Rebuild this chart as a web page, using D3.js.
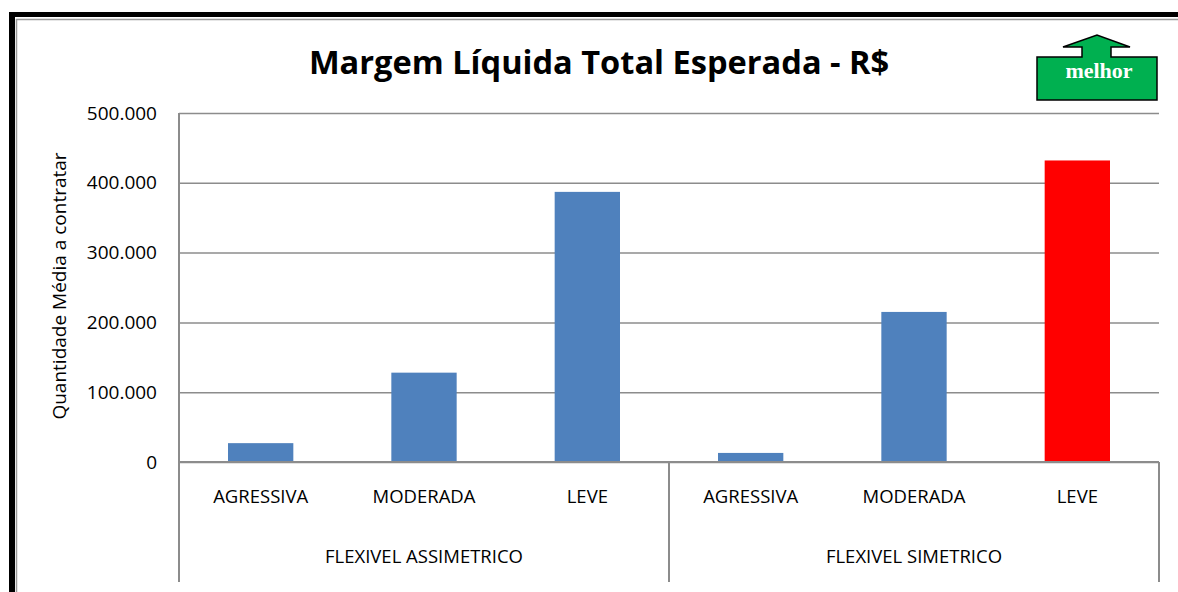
<!DOCTYPE html>
<html>
<head>
<meta charset="utf-8">
<script src="https://cdn.jsdelivr.net/npm/d3@7"></script>
<style>
  body { margin: 0; background: #fff; }
  text { font-family: "Open Sans", sans-serif; fill: #000; }
</style>
</head>
<body>
<script>
// data
const groups = ["FLEXIVEL ASSIMETRICO", "FLEXIVEL SIMETRICO"];
const levels = ["AGRESSIVA", "MODERADA", "LEVE"];
const values = [
  [27000, 128000, 387000],
  [13000, 215000, 432000]
];
const yTicks = [0, 100000, 200000, 300000, 400000, 500000];
const best = { group: 1, level: 2 };

const W = 1178, H = 592;
const plot = { left: 179, right: 1159, top: 113, bottom: 462 };

const svg = d3.select("body").append("svg")
  .attr("width", W).attr("height", H);

// frame (black + gray edge)
svg.append("rect").attr("x", 9).attr("y", 12).attr("width", W).attr("height", 5).attr("fill", "#000");
svg.append("rect").attr("x", 9).attr("y", 12).attr("width", 6).attr("height", H).attr("fill", "#000");
svg.append("line").attr("x1", 16).attr("x2", W).attr("y1", 19.5).attr("y2", 19.5)
  .attr("stroke", "#9a9a9a").attr("stroke-width", 1.5);
svg.append("line").attr("x1", 16.5).attr("x2", 16.5).attr("y1", 19).attr("y2", H)
  .attr("stroke", "#9a9a9a").attr("stroke-width", 1.5);

// title
svg.append("text")
  .attr("x", 599).attr("y", 74)
  .attr("text-anchor", "middle")
  .style("font-size", "32.6px").style("font-weight", "bold")
  .text("Margem Líquida Total Esperada - R$");

// flat list of bars
const rows = [];
groups.forEach((g, gi) => levels.forEach((l, li) => {
  rows.push({ key: gi + "|" + l, group: g, gi, level: l, li, value: values[gi][li] });
}));

const x = d3.scaleBand()
  .domain(rows.map(d => d.key))
  .range([plot.left, plot.right])
  .paddingInner(0.6).paddingOuter(0.3);

const y = d3.scaleLinear().domain([0, 500000]).range([plot.bottom, plot.top]);

const locale = d3.formatLocale({ decimal: ",", thousands: ".", grouping: [3], currency: ["R$", ""] });
const fmt = locale.format(",.0f");

// y axis with gridlines
const yAxis = svg.append("g")
  .attr("transform", `translate(${plot.left},0)`)
  .call(d3.axisLeft(y).tickValues(yTicks).tickFormat(fmt)
    .tickSize(-(plot.right - plot.left)).tickPadding(22));
yAxis.select(".domain").remove();
yAxis.selectAll(".tick line").attr("stroke", "#8c8c8c").attr("stroke-width", 1.5);
yAxis.selectAll(".tick text").style("font-size", "19px").style("font-family", "'Open Sans', sans-serif").attr("fill", "#000");

// bars
svg.append("g").selectAll("rect")
  .data(rows).join("rect")
  .attr("x", d => x(d.key))
  .attr("width", x.bandwidth())
  .attr("y", d => y(d.value))
  .attr("height", d => y(0) - y(d.value))
  .attr("fill", d => (d.gi === best.group && d.li === best.level) ? "#ff0000" : "#4f81bd");

// axis lines
const axisColor = "#8c8c8c";
const catBottom = 582;
svg.append("line").attr("x1", plot.left).attr("x2", plot.right)
  .attr("y1", plot.bottom).attr("y2", plot.bottom)
  .attr("stroke", axisColor).attr("stroke-width", 2);
svg.append("line").attr("x1", plot.left).attr("x2", plot.left)
  .attr("y1", plot.top).attr("y2", catBottom)
  .attr("stroke", axisColor).attr("stroke-width", 2);

// group dividers
const groupSpan = (plot.right - plot.left) / groups.length;
const dividers = d3.range(1, groups.length + 1).map(i => plot.left + i * groupSpan);
svg.append("g").selectAll("line").data(dividers).join("line")
  .attr("x1", d => d).attr("x2", d => d)
  .attr("y1", plot.bottom).attr("y2", catBottom)
  .attr("stroke", axisColor).attr("stroke-width", 2);

// category labels
svg.append("g").selectAll("text").data(rows).join("text")
  .attr("x", d => x(d.key) + x.bandwidth() / 2)
  .attr("y", 503)
  .attr("text-anchor", "middle")
  .style("font-size", "18.5px")
  .text(d => d.level);

svg.append("g").selectAll("text").data(groups).join("text")
  .attr("x", (d, i) => plot.left + (i + 0.5) * groupSpan)
  .attr("y", 563)
  .attr("text-anchor", "middle")
  .style("font-size", "18.5px")
  .text(d => d);

// y axis title
svg.append("text")
  .attr("transform", "translate(66,286) rotate(-90)")
  .attr("text-anchor", "middle")
  .style("font-size", "19px")
  .text("Quantidade Média a contratar");

// "melhor" arrow badge
const badge = d3.path();
badge.moveTo(1037, 57);
badge.lineTo(1082, 57);
badge.lineTo(1082, 47);
badge.lineTo(1063, 47);
badge.lineTo(1097, 35);
badge.lineTo(1130, 47);
badge.lineTo(1111, 47);
badge.lineTo(1111, 57);
badge.lineTo(1157, 57);
badge.lineTo(1157, 100);
badge.lineTo(1037, 100);
badge.closePath();
svg.append("path").attr("d", badge.toString())
  .attr("fill", "#00b050").attr("stroke", "#000").attr("stroke-width", 1.5);
svg.append("text")
  .attr("x", 1099).attr("y", 78)
  .attr("text-anchor", "middle")
  .style("font-family", "'Liberation Serif', 'Times New Roman', serif")
  .style("font-weight", "bold").style("font-size", "22px")
  .style("fill", "#fff")
  .text("melhor");
</script>
</body>
</html>
